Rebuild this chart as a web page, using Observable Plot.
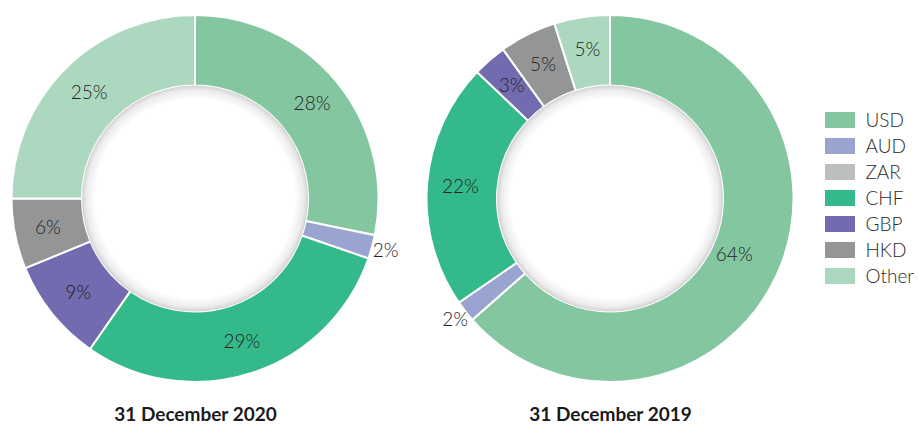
<!DOCTYPE html>
<html><head><meta charset="utf-8">
<script src="https://cdn.jsdelivr.net/npm/d3@7"></script>
<script src="https://cdn.jsdelivr.net/npm/@observablehq/plot@0.6"></script>
<style>
body{margin:0;background:#fff;font-family:Lato,"Open Sans",sans-serif;}
#wrap{position:relative;width:918px;height:425px;overflow:hidden;background:#fff;}
.panel{position:absolute;top:0;}
.panel svg{overflow:visible;}
</style></head><body><div id="wrap"></div>
<script>
const currencies = ["USD","AUD","ZAR","CHF","GBP","HKD","Other"];
const colors = ["#83c69f","#9aa4d0","#bcbfbf","#34b98b","#736bb0","#939694","#acd8c0"];
const titles = ["31 December 2020","31 December 2019"];
const values2020 = [28.2, 2.1, 0, 29.4, 9.1, 6.2, 25.0];
const labels2020 = ["28%","2%","","29%","9%","6%","25%"];
const values2019 = [63.5, 1.9, 0, 21.7, 3.0, 5.0, 4.9];
const labels2019 = ["64%","2%","","22%","3%","5%","5%"];

const color = Plot.scale({color: {type: "ordinal", domain: currencies, range: colors}});
let gid = 0;

function donut(values, labels, title) {
  const total = d3.sum(values);
  let acc = 0;
  const slices = currencies.map((c, i) => {
    const a0 = acc / total * 2 * Math.PI;
    acc += values[i];
    const a1 = acc / total * 2 * Math.PI;
    return {currency: c, value: values[i], label: labels[i], a0, a1};
  }).filter(d => d.value > 0);
  slices.forEach(d => {
    const mid = (d.a0 + d.a1) / 2;
    const share = d.value / total;
    const r = share < 0.025 ? 1.074 : share > 0.5 ? 0.74 : 0.82;
    d.lx = r * Math.sin(mid);
    d.ly = -r * Math.cos(mid);
  });
  const INNER = 113 / 183.5;
  const id = "g" + (gid++);
  const ring = (index, scales) => {
    const cx = scales.x(0), cy = scales.y(0), R = scales.x(1) - cx;
    const g = d3.create("svg:g").attr("transform", `translate(${cx},${cy})`);
    const defs = g.append("defs");
    const grad = defs.append("radialGradient").attr("id", id);
    grad.append("stop").attr("offset", "0").attr("stop-color", "#fff");
    grad.append("stop").attr("offset", "0.88").attr("stop-color", "#fff");
    grad.append("stop").attr("offset", "0.96").attr("stop-color", "#ececec");
    grad.append("stop").attr("offset", "1").attr("stop-color", "#d2d2d2");
    const arc = d3.arc().innerRadius(R * INNER).outerRadius(R);
    g.selectAll("path").data(slices).join("path")
      .attr("d", d => arc({startAngle: d.a0, endAngle: d.a1}))
      .attr("fill", d => color.apply(d.currency))
      .attr("stroke", "#fff").attr("stroke-width", 2);
    g.append("circle").attr("r", R * INNER).attr("fill", `url(#${id})`);
    return g.node();
  };
  return Plot.plot({
    width: 404, height: 425,
    marginLeft: 11.5, marginRight: 25.5, marginTop: 15, marginBottom: 43,
    x: {domain: [-1, 1], axis: null},
    y: {domain: [1, -1], axis: null},
    style: {fontFamily: "Lato, sans-serif", background: "transparent"},
    marks: [
      ring,
      Plot.text(slices, {x: "lx", y: "ly", text: "label", fontSize: 19, fontWeight: 300, fill: "#222"}),
      Plot.text([title], {frameAnchor: "bottom", dy: 38, fontSize: 19, fontWeight: "bold", fill: "#1a1a1a"})
    ]
  });
}

const wrap = document.getElementById("wrap");
function place(node, left) {
  const d = document.createElement("div");
  d.className = "panel";
  d.style.left = left + "px";
  d.appendChild(node);
  wrap.appendChild(d);
}
place(donut(values2020, labels2020, titles[0]), 0);
place(donut(values2019, labels2019, titles[1]), 414.5);

const legend = Plot.plot({
  width: 98, height: 425, margin: 0,
  x: {type: "band", domain: ["s"], range: [5, 35], padding: 0, axis: null},
  y: {type: "band", domain: currencies, range: [107, 289], paddingInner: 10/26, paddingOuter: 5/26, axis: null},
  color: {domain: currencies, range: colors},
  style: {fontFamily: "Lato, sans-serif", background: "transparent"},
  marks: [
    Plot.cell(currencies, {x: () => "s", y: d => d, fill: d => d}),
    Plot.text(currencies, {x: () => "s", y: d => d, text: d => d, dx: 25, textAnchor: "start", fontSize: 19, fontWeight: 300, fill: "#2a2a2a"})
  ]
});
place(legend, 820);
</script></body></html>
